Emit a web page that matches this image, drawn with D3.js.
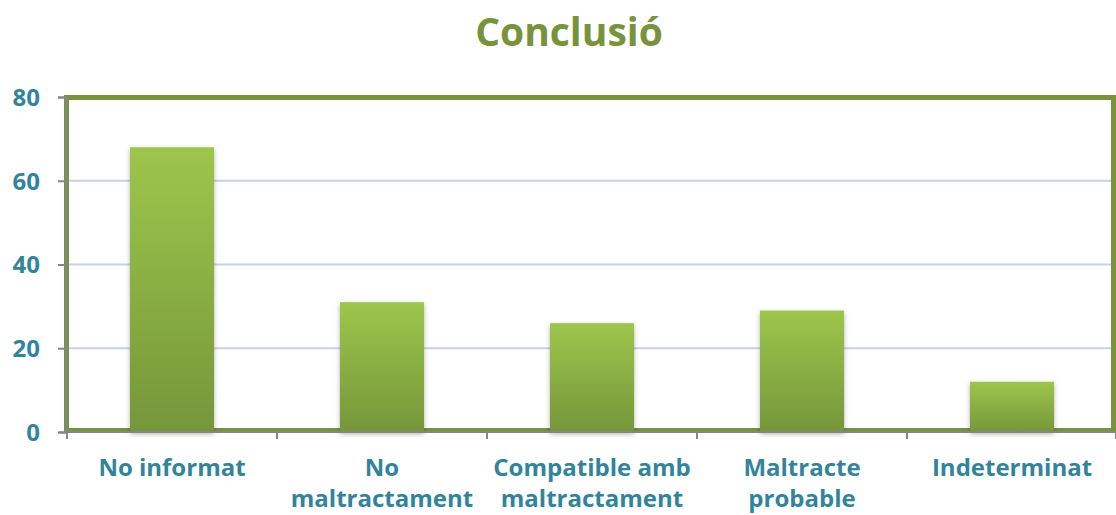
<!DOCTYPE html>
<html><head><meta charset="utf-8">
<script src="https://cdn.jsdelivr.net/npm/d3@7"></script>
<style>body{margin:0;background:#fff;}svg{display:block;}</style>
</head><body>
<script>
const categories = [["No informat"], ["No", "maltractament"], ["Compatible amb", "maltractament"], ["Maltracte", "probable"], ["Indeterminat"]];
const values = [68, 31, 26, 29, 12];
const yTicks = [0, 20, 40, 60, 80];
const title = "Conclusió";

const W = 1116, H = 515;
const svg = d3.select("body").append("svg").attr("width", W).attr("height", H);
const font = "'Open Sans', Lato, sans-serif";

const x = d3.scaleBand().domain(d3.range(categories.length)).range([67, 1117]).paddingInner(0.6).paddingOuter(0.3);
const xOuter = d3.scaleBand().domain(d3.range(categories.length)).range([67, 1117]);
const y = d3.scaleLinear().domain([0, 80]).range([432, 97]);

const defs = svg.append("defs");
const g = defs.append("linearGradient").attr("id", "barg").attr("x1", 0).attr("y1", 0).attr("x2", 0).attr("y2", 1);
g.append("stop").attr("offset", "0%").attr("stop-color", "#9dc64b");
g.append("stop").attr("offset", "100%").attr("stop-color", "#76963a");
const f = defs.append("filter").attr("id", "sh").attr("x", "-20%").attr("y", "-20%").attr("width", "140%").attr("height", "140%");
f.append("feDropShadow").attr("dx", 0).attr("dy", 2).attr("stdDeviation", 2.5).attr("flood-color", "#000").attr("flood-opacity", 0.3);

// title
svg.append("text").attr("x", 569).attr("y", 46).attr("text-anchor", "middle")
  .attr("font-family", font).attr("font-weight", "bold").attr("font-size", 39).attr("fill", "#77933c").text(title);

// gridlines
svg.append("g").selectAll("line").data(yTicks.filter(d => d > 0 && d < 80)).join("line")
  .attr("x1", 67).attr("x2", 1114).attr("y1", d => y(d)).attr("y2", d => y(d))
  .attr("stroke", "#c5d2ec").attr("stroke-width", 2);

// plot border
svg.append("rect").attr("x", 66.5).attr("y", 97.5).attr("width", 1047).attr("height", 333)
  .attr("fill", "none").attr("stroke", "#77933c").attr("stroke-width", 5);

// bars
svg.append("g").selectAll("rect").data(values).join("rect")
  .attr("x", (d, i) => x(i)).attr("width", x.bandwidth())
  .attr("y", d => y(d)).attr("height", d => y(0) - y(d))
  .attr("fill", "url(#barg)").attr("filter", "url(#sh)");

// y axis
const yAxis = d3.axisLeft(y).tickValues(yTicks).tickSize(8).tickPadding(18);
const ya = svg.append("g").attr("transform", "translate(66,0)").call(yAxis);
ya.select(".domain").attr("stroke", "#868686").attr("stroke-width", 2);
ya.selectAll(".tick line").attr("stroke", "#868686").attr("stroke-width", 2);
ya.selectAll(".tick text").attr("font-family", font).attr("font-weight", "bold").attr("font-size", 24).attr("fill", "#31849b").attr("dy", "0.35em");

// x axis
const xa = svg.append("g").attr("transform", "translate(0,432)");
xa.append("line").attr("x1", 66).attr("x2", 1116).attr("y1", 0).attr("y2", 0).attr("stroke", "#868686").attr("stroke-width", 2);
const bounds = d3.range(categories.length + 1).map(i => i < categories.length ? xOuter(i) : 1116);
xa.selectAll("line.t").data(bounds).join("line").attr("class", "t")
  .attr("x1", d => d).attr("x2", d => d).attr("y1", 0).attr("y2", 7).attr("stroke", "#868686").attr("stroke-width", 2);

const lbl = svg.append("g").selectAll("text").data(categories).join("text")
  .attr("x", (d, i) => xOuter(i) + xOuter.bandwidth() / 2).attr("y", 476)
  .attr("text-anchor", "middle").attr("font-family", font).attr("font-weight", "bold").attr("font-size", 24).attr("fill", "#31849b");
lbl.selectAll("tspan").data(d => d).join("tspan")
  .attr("x", function() { return this.parentNode.getAttribute("x"); })
  .attr("dy", (d, i) => i === 0 ? 0 : 31).text(d => d);
</script>
</body></html>
